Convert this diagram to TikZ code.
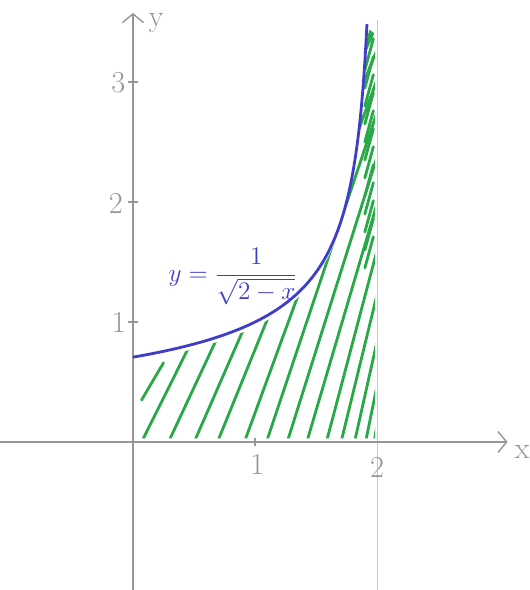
\documentclass[tikz,border=0pt]{standalone}
\usetikzlibrary{arrows.meta}
\definecolor{pencil}{RGB}{150,150,150}
\definecolor{inkblue}{RGB}{62,62,200}
\definecolor{inkgreen}{RGB}{40,168,70}
\tikzset{
  axis/.style={draw=pencil, line width=0.8pt, -{Straight Barb[length=5pt,width=12pt]}},
  hatch/.style={inkgreen, line width=1.6pt, line cap=round},
  lbl/.style={text=pencil, font=\LARGE},
  tick/.style={draw=pencil, line width=0.9pt},
}

\begin{document}
\begin{tikzpicture}[x=2.44cm, y=2.4cm]
\useasboundingbox (-1.09,-1.233) rectangle (3.246,3.683);
\coordinate (xl) at (-1.09,0);
\coordinate (xr) at (3.07,0);
\coordinate (yb) at (0,-1.233);
\coordinate (yt) at (0,3.575);
\coordinate (vb) at (2,-1.233);
\coordinate (vt) at (2,3.52);

% hatching under the curve
\begin{scope}
\clip (0,0.03) -- plot[domain=0:1.918, samples=80] (\x,{1/sqrt(2-\x)-0.04}) -- (1.985,3.4) -- (1.985,0.03) -- cycle;
\foreach \a/\s in {0.08/0.49,0.30/0.46,0.51/0.43,0.70/0.40,0.92/0.36,1.10/0.33,
                   1.27/0.31,1.43/0.29,1.59/0.26,1.71/0.24,1.82/0.22,1.91/0.2,1.98/0.15}
  \draw[hatch] (\a,0.02) -- ++({3.6*\s},3.6);
\foreach \b in {1.45,1.6,...,3.3}
  \draw[hatch] (1.9,\b) -- ++(0.07,0.26);
\end{scope}
\draw[hatch] (0.07,0.35) -- (0.25,0.66);

% axes
\draw[pencil!55, line width=0.6pt] (vb) -- (vt);
\draw[axis] (xl) -- (xr);
\draw[axis] (yb) -- (yt);
\draw[tick] (-0.04,1) -- (0.04,1);
\draw[tick] (-0.04,2) -- (0.04,2);
\draw[tick] (-0.04,3) -- (0.04,3);
\draw[tick] (1,-0.03) -- (1,0.03);

% curve
\draw[inkblue, line width=1.6pt] plot[domain=0:1.918, samples=120] (\x,{1/sqrt(2-\x)});

\node[lbl] (X) at (3.19,-0.08) {x};
\node[lbl] (Y) at (0.19,3.49) {y};
\node[lbl] (x1) at (1.02,-0.19) {1};
\node[lbl] (x2) at (2.0,-0.21) {2};
\node[lbl] (y1) at (-0.115,1.0) {1};
\node[lbl] (y2) at (-0.14,1.99) {2};
\node[lbl] (y3) at (-0.12,2.99) {3};
\node[text=inkblue, font=\Large] (eq) at (0.82,1.38) {$y=\displaystyle\frac{1}{\sqrt{2-x}}$};
\end{tikzpicture}
\end{document}
